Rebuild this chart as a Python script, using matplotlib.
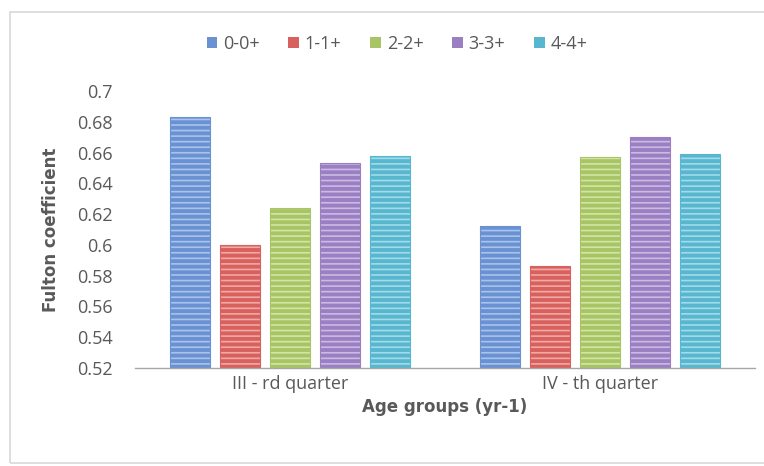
import numpy as np
import matplotlib
matplotlib.use("Agg")
import matplotlib.pyplot as plt
from matplotlib.patches import Rectangle

plt.rcParams['font.family'] = ['Open Sans', 'DejaVu Sans']
plt.rcParams['hatch.linewidth'] = 1.2

quarters = ["III - rd quarter", "IV - th quarter"]
age_groups = ["0-0+", "1-1+", "2-2+", "3-3+", "4-4+"]
values_q3 = [0.683, 0.600, 0.624, 0.653, 0.658]
values_q4 = [0.612, 0.586, 0.657, 0.670, 0.659]
y_ticks = [0.52, 0.54, 0.56, 0.58, 0.6, 0.62, 0.64, 0.66, 0.68, 0.7]
y_tick_labels = ["0.52", "0.54", "0.56", "0.58", "0.6", "0.62", "0.64", "0.66", "0.68", "0.7"]

face_colors = ["#6a92d2", "#d8615e", "#a8c566", "#9a7fc2", "#58b7cf"]
stripe_colors = ["#a9c3ea", "#f0a9a6", "#d3e5a6", "#cbbbe3", "#a2dbe9"]
text_gray = "#595959"
title_font = ['DejaVu Sans']

fig = plt.figure(figsize=(7.64, 4.66), dpi=100)
fig.patches.append(Rectangle((10 / 764, 3 / 466), 760 / 764, 451 / 466,
                             transform=fig.transFigure, fill=False,
                             edgecolor="#d9d9d9", linewidth=1.2))

ax = fig.add_axes([135 / 764, 98 / 466, 620 / 764, 277 / 466])

data = np.array([values_q3, values_q4])
x = np.arange(len(quarters))
pitch = 50 / 310
width = 40 / 310
base = y_ticks[0]
for i, name in enumerate(age_groups):
    pos = x + (i - 2) * pitch
    heights = data[:, i] - base
    ax.bar(pos, heights, width, bottom=base, color=face_colors[i],
           edgecolor=stripe_colors[i], hatch="---", linewidth=0, label=name)
    ax.bar(pos, heights, width, bottom=base, fill=False,
           edgecolor=face_colors[i], linewidth=0.8)

ax.set_xlim(-0.5, 1.5)
ax.set_ylim(0.52, 0.7)
ax.set_yticks(y_ticks)
ax.set_yticklabels(y_tick_labels)
ax.set_xticks(x)
ax.set_xticklabels(quarters)
ax.tick_params(axis="both", length=0, labelsize=13, colors=text_gray)
ax.tick_params(axis="y", pad=16)
ax.tick_params(axis="x", pad=5)

for side in ["top", "right", "left"]:
    ax.spines[side].set_visible(False)
ax.spines["bottom"].set_color("#a6a6a6")
ax.spines["bottom"].set_linewidth(1.0)

ax.set_ylabel("Fulton coefficient", fontsize=12, fontweight="bold",
              family=title_font, color=text_gray, labelpad=12)
ax.set_xlabel("Age groups (yr-1)", fontsize=12, fontweight="bold",
              family=title_font, color=text_gray, labelpad=4)

handles = [Rectangle((0, 0), 1, 1, facecolor=c, edgecolor="none") for c in face_colors]
fig.legend(handles, age_groups, loc="center", bbox_to_anchor=(397 / 764, 1 - 44 / 466),
           ncol=5, frameon=False, fontsize=13, labelcolor=text_gray,
           handlelength=0.6, handleheight=0.6, handletextpad=0.3, columnspacing=1.6)

fig.savefig("out.png", dpi=100)
